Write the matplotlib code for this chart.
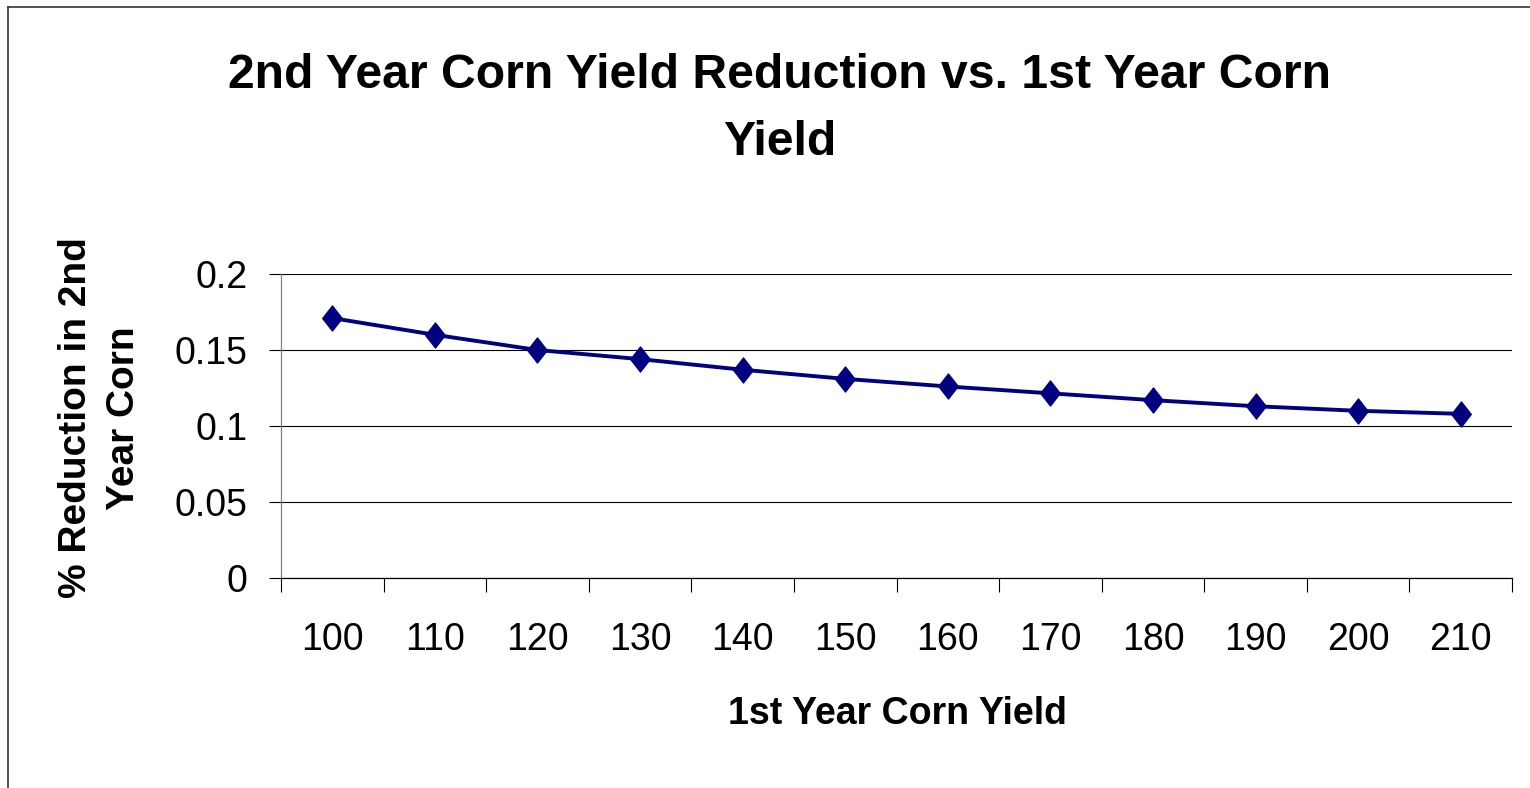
import numpy as np
import matplotlib
matplotlib.use('Agg')
import matplotlib.pyplot as plt
from matplotlib.path import Path
from matplotlib.lines import Line2D

# data
yields = [100, 110, 120, 130, 140, 150, 160, 170, 180, 190, 200, 210]
reduction = [0.171, 0.160, 0.150, 0.144, 0.137, 0.131, 0.126, 0.1215, 0.117, 0.113, 0.110, 0.108]
y_ticks = [0, 0.05, 0.1, 0.15, 0.2]
y_tick_labels = ['0', '0.05', '0.1', '0.15', '0.2']

plt.rcParams['font.family'] = ['Liberation Sans', 'DejaVu Sans']

W, H = 1530, 788
fig = plt.figure(figsize=(W / 100, H / 100), dpi=100)
fig.patch.set_facecolor('white')

ax = fig.add_axes([281 / W, 1 - 578 / H, (1512 - 281) / W, (578 - 274) / H])

# tall diamond like the Excel marker
diamond = Path([(0, 1), (0.78, 0), (0, -1), (-0.78, 0), (0, 1)],
               [Path.MOVETO, Path.LINETO, Path.LINETO, Path.LINETO, Path.CLOSEPOLY])

x = np.arange(len(yields))
ax.plot(x, reduction, color='#000080', lw=2.8, marker=diamond, markersize=18,
        markerfacecolor='#000080', markeredgecolor='#000080', zorder=3)

ax.set_xlim(-0.5, len(yields) - 0.5)
ax.set_ylim(0, 0.2)

ax.set_yticks(y_ticks)
ax.set_yticklabels(y_tick_labels, fontsize=27)
ax.tick_params(axis='y', direction='out', length=9, width=0.8, pad=15, colors='black')

ax.set_xticks(x)
ax.set_xticklabels([str(v) for v in yields], fontsize=27)
ax.set_xticks(np.arange(len(yields) + 1) - 0.5, minor=True)
ax.tick_params(axis='x', which='major', length=0, pad=32)
ax.tick_params(axis='x', which='minor', direction='out', length=10, width=0.8, color='black')

ax.grid(axis='y', color='black', lw=0.8, zorder=0)
ax.set_axisbelow(True)
for s in ['top', 'right']:
    ax.spines[s].set_visible(False)
ax.spines['left'].set_color('#808080')
ax.spines['left'].set_linewidth(0.9)
ax.spines['bottom'].set_color('black')
ax.spines['bottom'].set_linewidth(0.9)

fig.text(780 / W, 1 - 109 / H, '2nd Year Corn Yield Reduction vs. 1st Year Corn\nYield',
         ha='center', va='center', fontsize=34.7, fontweight='bold', linespacing=1.64)
fig.text(897 / W, 1 - 714 / H, '1st Year Corn Yield', ha='center', va='center',
         fontsize=27, fontweight='bold')
fig.text(100 / W, 1 - 418 / H, '% Reduction in 2nd\nYear Corn', ha='center', va='center',
         rotation=90, fontsize=28, fontweight='bold', linespacing=1.43)

# chart border (left and top visible)
fig.add_artist(Line2D([8 / W, 8 / W], [0, 1 - 7 / H], color='#333333', lw=1.2))
fig.add_artist(Line2D([8 / W, 1], [1 - 7 / H, 1 - 7 / H], color='#333333', lw=1.2))

fig.savefig('out.png', dpi=100, facecolor='white')
